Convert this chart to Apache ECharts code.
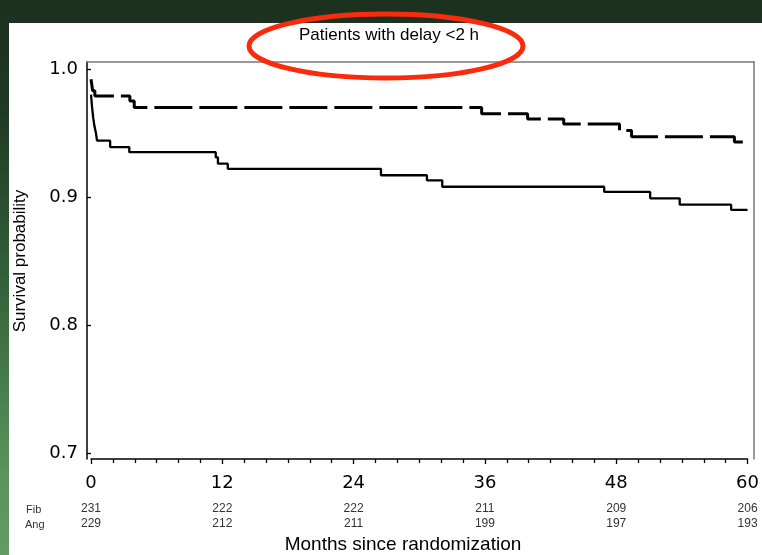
<!DOCTYPE html>
<html><head><meta charset="utf-8">
<script src="https://cdn.jsdelivr.net/npm/echarts@6/dist/echarts.min.js"></script>
<style>
html,body{margin:0;padding:0;width:762px;height:555px;overflow:hidden;}
body{background:linear-gradient(180deg,#1c301e 0%,#203924 20%,#33603a 50%,#5a935c 85%,#629a63 100%);position:relative;}
#panel{position:absolute;left:9px;top:23px;right:0;bottom:0;background:#fff;}
#chart{position:absolute;left:0;top:0;width:762px;height:555px;}
</style></head><body>
<div id="panel"></div><div id="chart"></div>
<script>
// Tick positions (months) and number-at-risk table
const monthTicks = [0, 12, 24, 36, 48, 60];
const fibAtRisk = [231, 222, 222, 211, 209, 206];
const angAtRisk = [229, 212, 211, 199, 197, 193];

// Dashed curve (upper)
const dashedTimes = [0, 0.15, 0.35, 3.55, 3.95, 35.7, 39.9, 43.2, 48.3, 49.4, 58.8, 60];
const dashedSurv  = [0.992, 0.983, 0.979, 0.975, 0.970, 0.965, 0.961, 0.957, 0.952, 0.947, 0.943, 0.943];

// Solid curve (lower)
const solidTimes = [0, 0.1, 0.2, 0.3, 0.45, 0.55, 1.75, 3.5, 11.4, 11.6, 12.5, 26.5, 30.7, 32.1, 46.9, 51.1, 53.8, 58.5, 60];
const solidSurv  = [0.980, 0.970, 0.962, 0.956, 0.950, 0.944, 0.939, 0.935, 0.931, 0.926, 0.922, 0.917, 0.913, 0.908, 0.904, 0.899, 0.894, 0.890, 0.890];

const FONT = 'Liberation Sans, Arial, Helvetica, sans-serif';
const TICKFONT = 'DejaVu Sans, Arial, sans-serif';
const zip = (a, b) => a.map((v, i) => [v, b[i]]);

const chart = echarts.init(document.getElementById('chart'), null, {renderer: 'canvas'});
const riskAxis = (arr, off) => ({
  gridIndex: 0, type: 'value', min: 0, max: 60, interval: 12, position: 'bottom', offset: off,
  axisLine: {show: false}, axisTick: {show: false}, splitLine: {show: false},
  axisLabel: {margin: 5, fontSize: 12, color: '#333', fontFamily: FONT,
    formatter: v => { const i = monthTicks.indexOf(v); return i >= 0 ? String(arr[i]) : ''; }}
});

chart.setOption({
  backgroundColor: 'transparent',
  animation: false,
  grid: [
    {left: 91, right: 12, top: 69, bottom: 102},
    {left: 87, right: 8, top: 62, bottom: 96}
  ],
  xAxis: [
    {gridIndex: 0, type: 'value', min: 0, max: 60, interval: 12, position: 'bottom', offset: 6,
     axisLine: {show: true, onZero: false, lineStyle: {color: '#000', width: 1.5}},
     axisTick: {show: true, length: 5, lineStyle: {color: '#000', width: 1.3}},
     minorTick: {show: true, splitNumber: 6, length: 4, lineStyle: {color: '#000', width: 1.3}},
     splitLine: {show: false},
     axisLabel: {margin: 15, fontSize: 18, color: '#000', fontFamily: TICKFONT,
       formatter: v => monthTicks.indexOf(v) >= 0 ? String(v) : ''}},
    riskAxis(fibAtRisk, 45),
    riskAxis(angAtRisk, 60),
    {gridIndex: 1, type: 'value', min: 0, max: 1, position: 'top',
     axisLine: {show: true, onZero: false, lineStyle: {color: '#777', width: 1.5}},
     axisTick: {show: false}, axisLabel: {show: false}, splitLine: {show: false}}
  ],
  yAxis: [
    {gridIndex: 0, type: 'value', min: 0.7, max: 1.0, interval: 0.1, offset: 4,
     axisLine: {show: false},
     axisTick: {show: true, length: 4, lineStyle: {color: '#000', width: 1.3}},
     splitLine: {show: false},
     axisLabel: {margin: 9, fontSize: 18, color: '#000', fontFamily: TICKFONT, formatter: v => v.toFixed(1)},
     name: 'Survival probability', nameLocation: 'middle', nameGap: 58,
     nameTextStyle: {fontSize: 17, color: '#000', fontFamily: FONT}},
    {gridIndex: 1, type: 'value', min: 0, max: 1, position: 'left',
     axisLine: {show: true, onZero: false, lineStyle: {color: '#000', width: 1.5}},
     axisTick: {show: false}, axisLabel: {show: false}, splitLine: {show: false}},
    {gridIndex: 1, type: 'value', min: 0, max: 1, position: 'right',
     axisLine: {show: true, onZero: false, lineStyle: {color: '#777', width: 1.5}},
     axisTick: {show: false}, axisLabel: {show: false}, splitLine: {show: false}}
  ],
  series: [
    {name: 'Ang', type: 'line', xAxisIndex: 0, yAxisIndex: 0, step: 'end', symbol: 'none',
     data: zip(dashedTimes, dashedSurv),
     lineStyle: {color: '#000', width: 3, type: [38, 7], cap: 'butt'}},
    {name: 'Fib', type: 'line', xAxisIndex: 0, yAxisIndex: 0, step: 'end', symbol: 'none',
     data: zip(solidTimes, solidSurv),
     lineStyle: {color: '#000', width: 2.3}}
  ],
  graphic: [
    {type: 'text', x: 389, y: 35, style: {text: 'Patients with delay <2 h', fontSize: 17, fontFamily: FONT, fill: '#000', align: 'center', verticalAlign: 'middle'}},
    {type: 'text', x: 403, y: 545, style: {text: 'Months since randomization', fontSize: 19, fontFamily: FONT, fill: '#000', align: 'center', verticalAlign: 'middle'}},
    {type: 'text', x: 26, y: 510, style: {text: 'Fib', fontSize: 11, fontFamily: FONT, fill: '#333', align: 'left', verticalAlign: 'middle'}},
    {type: 'text', x: 25, y: 525, style: {text: 'Ang', fontSize: 11, fontFamily: FONT, fill: '#333', align: 'left', verticalAlign: 'middle'}},
    {type: 'ellipse', z: 100, shape: {cx: 386, cy: 46, rx: 137, ry: 32}, style: {fill: 'none', stroke: '#fa2b0d', lineWidth: 5}}
  ]
});
</script>
</body></html>
